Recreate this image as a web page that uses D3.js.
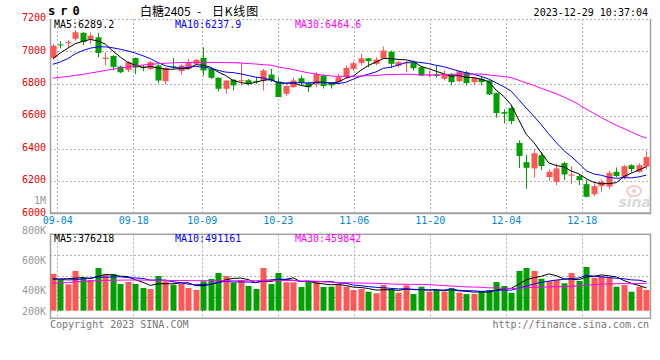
<!DOCTYPE html>
<html><head><meta charset="utf-8">
<script src="https://cdn.jsdelivr.net/npm/d3@7"></script>
<style>
body{margin:0;background:#fff}
svg{display:block}
text{font-family:"DejaVu Sans Mono","Liberation Mono",monospace}
</style>
</head><body>
<svg id="c" width="660" height="360"></svg>
<script>
const dates=["09-01","09-04","09-05","09-06","09-07","09-08","09-11","09-12","09-13","09-14","09-15","09-18","09-19","09-20","09-21","09-22","09-25","09-26","09-27","09-28",
"10-09","10-10","10-11","10-12","10-13","10-16","10-17","10-18","10-19","10-20","10-23","10-24","10-25","10-26","10-27","10-30","10-31",
"11-01","11-02","11-03","11-06","11-07","11-08","11-09","11-10","11-13","11-14","11-15","11-16","11-17","11-20","11-21","11-22","11-23","11-24","11-27","11-28","11-29","11-30",
"12-01","12-04","12-05","12-06","12-07","12-08","12-11","12-12","12-13","12-14","12-15","12-18","12-19","12-20","12-21","12-22","12-25","12-26","12-27","12-28","12-29"];
const open=[6960,7043,7050,7078,7115,7077,7087,6954,6972,6906,6886,6959,6904,6892,6913,6816,6908,6878,6892,6923,
6960,6892,6837,6769,6825,6817,6822,6818,6820,6857,6814,6738,6779,6834,6806,6796,6851,
6806,6810,6841,6892,6929,6957,6923,6957,6998,6913,6927,6933,6902,6855,6857,6831,6861,6816,6871,6810,6831,6820,
6742,6625,6650,6434,6316,6277,6359,6224,6194,6310,6233,6230,6180,6118,6168,6165,6256,6220,6297,6256,6289];
const high=[7045,7062,7070,7132,7118,7117,7113,6994,6975,6912,6940,6962,6915,6940,6920,6902,6960,6920,6954,6954,
7025,6898,6841,6824,6828,6933,6830,6841,6892,6892,6838,6790,6837,6851,6810,6871,6857,
6810,6861,6913,6937,6985,6960,6964,7029,7005,6943,6943,6943,6906,6880,6913,6882,6866,6882,6878,6840,6843,6822,
6745,6642,6660,6451,6360,6398,6377,6272,6308,6318,6291,6242,6205,6185,6209,6262,6283,6297,6303,6309,6385];
const low=[6950,7018,7020,7066,7040,7046,6965,6915,6882,6865,6872,6860,6878,6885,6804,6796,6892,6855,6885,6918,
6851,6830,6754,6738,6760,6790,6790,6800,6759,6810,6718,6726,6775,6790,6748,6779,6770,
6770,6800,6833,6880,6913,6902,6913,6955,6898,6902,6871,6882,6848,6840,6838,6820,6790,6810,6790,6790,6790,6730,
6591,6554,6550,6280,6152,6220,6266,6200,6174,6205,6180,6174,6098,6106,6133,6148,6222,6209,6250,6250,6271];
const close=[7035,7040,7057,7118,7058,7097,6990,6962,6904,6871,6933,6900,6897,6933,6820,6898,6904,6913,6929,6948,
6882,6837,6769,6820,6790,6822,6798,6815,6882,6820,6718,6786,6820,6806,6779,6861,6786,
6790,6841,6898,6927,6957,6940,6950,7005,6923,6933,6931,6896,6851,6859,6848,6861,6810,6878,6804,6837,6810,6734,
6619,6615,6570,6354,6281,6371,6292,6256,6277,6240,6240,6205,6102,6168,6194,6250,6230,6291,6273,6297,6348];
const ma5=[6955,6990,7020,7048,7062,7074,7064,7045,7002,6965,6932,6914,6901,6907,6897,6890,6890,6894,6893,6918,
6915,6902,6873,6851,6820,6808,6800,6809,6821,6827,6807,6804,6805,6790,6782,6810,6810,
6804,6811,6835,6848,6883,6913,6934,6956,6955,6950,6948,6938,6907,6894,6877,6863,6846,6851,6840,6838,6828,6813,
6761,6723,6670,6578,6488,6438,6374,6311,6295,6287,6261,6244,6213,6191,6182,6184,6189,6227,6248,6268,6288];
const ma10=[6920,6935,6955,6985,7005,7020,7028,7028,7022,7013,7003,6989,6973,6955,6931,6911,6902,6897,6900,6908,
6902,6896,6883,6872,6869,6861,6851,6841,6836,6824,6807,6802,6807,6806,6805,6809,6807,
6805,6801,6809,6829,6847,6859,6873,6896,6902,6916,6931,6936,6931,6925,6914,6906,6892,6879,6867,6858,6845,6829,
6806,6782,6754,6703,6650,6600,6548,6490,6437,6388,6350,6309,6262,6243,6235,6222,6216,6220,6219,6225,6236];
const ma30=[6835,6840,6845,6852,6858,6866,6874,6882,6890,6897,6904,6910,6916,6920,6924,6927,6929,6931,6932,6932,
6932,6932,6932,6931,6930,6928,6925,6922,6918,6915,6904,6896,6888,6877,6868,6860,6853,
6848,6846,6847,6846,6848,6850,6850,6856,6857,6858,6859,6858,6854,6854,6854,6857,6857,6860,6859,6860,6860,6855,
6849,6845,6838,6822,6805,6791,6772,6755,6738,6718,6696,6672,6643,6617,6592,6567,6544,6523,6501,6481,6464];
// volume in thousands (K)
const volume=[567,507,464,597,527,507,627,557,567,467,487,467,427,417,547,494,460,467,427,407,
494,517,577,547,480,507,447,417,627,467,577,484,484,437,497,484,437,
440,457,440,407,417,390,374,457,414,380,454,367,440,390,407,390,427,380,367,367,397,407,
487,447,380,597,627,597,520,497,507,474,577,497,637,530,547,534,440,457,390,440,407];
const vma5=[515,518,520,525,532,520,544,563,557,545,541,509,483,453,469,470,469,477,479,451,
451,462,484,508,523,526,512,480,496,493,507,514,528,490,496,477,468,
459,463,452,436,432,422,406,409,410,403,416,414,411,406,412,399,411,399,394,386,388,384,
405,421,424,464,508,530,544,568,550,519,515,510,538,543,558,549,538,502,474,452,427];
const vma10=[524,512,508,510,518,528,534,536,537,539,531,527,523,505,507,506,489,480,466,460,
461,466,481,494,487,488,487,482,502,508,516,513,504,493,494,492,491,
493,476,474,457,450,441,434,430,423,418,419,410,410,408,407,407,413,405,400,399,393,397,
402,408,405,426,446,467,483,496,507,513,522,527,553,546,538,532,524,520,508,505,488];
const vma30=[475,478,482,488,493,497,500,502,504,506,507,507,506,505,504,503,502,502,501,500,
500,500,500,500,499,499,499,500,501,502,503,502,502,497,496,495,489,
485,481,481,478,476,475,474,471,468,465,465,463,464,460,457,451,447,443,439,436,435,428,
429,424,421,425,431,434,435,437,440,440,445,448,455,460,466,468,469,472,469,472,471];

const priceTicks=[6000,6200,6400,6600,6800,7000,7200];
const dateTicks=["09-04","09-18","10-09","10-23","11-06","11-20","12-04","12-18"];
const volTickLabels=["1M","800K","600K","400K","200K"];
const priceLegend=["MA5:6289.2","MA10:6237.9","MA30:6464.6"];
const volLegend=["MA5:376218","MA10:491161","MA30:459842"];
const symbol="sr0", stamp="2023-12-29 10:37:04";
const titleParts=["白糖2405","-","日K线图"];
const copyright="Copyright 2023 SINA.COM", site="http://finance.sina.com.cn";

const svg=d3.select("#c");
const L=50,R=650,pT=19,pB=213.3,vT=234.3,vB=318.3;
const RED="#ff5656",GREEN="#00a000",GRID="#b4b4b4",BORDER="#a0a0a0";
const lineColors=["#000000","#0000ff","#ff00ff"];

const x=d3.scaleBand().domain(dates).range([49,650.2]);
const cx=d=>x(d)+x.bandwidth()/2;
const tickX=d3.scaleLinear().domain([0,79]).range([49.7,650.1]);
const y=d3.scaleLinear().domain([6000,7200]).range([pB,pT]);
const vy=d3.scaleLinear().domain([200,800]).range([310.7,250.7]);

svg.append("rect").attr("width",660).attr("height",360).attr("fill","#fff");

// header
svg.append("text").attr("x",48).attr("y",15).attr("font-size",12).attr("font-weight","bold")
 .attr("letter-spacing",5).text(symbol);
const tt=svg.append("text").attr("y",16).attr("font-size",12)
 .style("font-family","'Noto Sans CJK SC',sans-serif");
const titleX=[140,197,212];
titleParts.forEach((t,j)=>tt.append("tspan").attr("x",titleX[j]).attr("letter-spacing",j===2?0.8:0).text(t));
svg.append("text").attr("x",648).attr("y",16).attr("font-size",10).attr("text-anchor","end").text(stamp);

// price grid
const tickIdx=dateTicks.map(t=>dates.indexOf(t));
const gP=svg.append("g");
gP.selectAll("line.h").data(priceTicks.filter(v=>v>6000)).join("line")
 .attr("x1",L).attr("x2",R).attr("y1",d=>Math.round(y(d))+0.5).attr("y2",d=>Math.round(y(d))+0.5)
 .attr("stroke",GRID).attr("stroke-dasharray","2,2");
gP.selectAll("line.v").data(tickIdx).join("line")
 .attr("x1",d=>Math.round(tickX(d))+0.5).attr("x2",d=>Math.round(tickX(d))+0.5).attr("y1",pT).attr("y2",pB)
 .attr("stroke",GRID).attr("stroke-dasharray","2,2");
// borders
svg.append("line").attr("x1",L+0.5).attr("x2",L+0.5).attr("y1",pT).attr("y2",pB+1).attr("stroke",BORDER).attr("stroke-width",1.5);
svg.append("line").attr("x1",R+0.5).attr("x2",R+0.5).attr("y1",pT).attr("y2",pB+1).attr("stroke",BORDER).attr("stroke-width",1.5);
svg.append("line").attr("x1",L).attr("x2",R+1).attr("y1",pB).attr("y2",pB).attr("stroke",BORDER).attr("stroke-width",2);

// price axis labels
const ay=svg.append("g").attr("transform",`translate(${L},0)`)
 .call(d3.axisLeft(y).tickValues(priceTicks).tickSize(0).tickPadding(4).tickFormat(d3.format("d")));
ay.select(".domain").remove();
ay.selectAll("text").attr("fill","#ee0000").attr("font-size",10).attr("dy","0.18em")
 .style("font-family","'DejaVu Sans Mono',monospace");

// date axis labels
const ax=svg.append("g").attr("transform",`translate(0,${pB})`)
 .call(d3.axisBottom(tickX).tickValues(tickIdx).tickSize(0).tickPadding(4).tickFormat(i=>dates[i]));
ax.select(".domain").remove();
ax.selectAll("text").attr("fill","#0088dd").attr("font-size",10).style("font-family","'DejaVu Sans Mono',monospace");

// watermark
const wm=svg.append("g").attr("opacity",0.9);
wm.append("ellipse").attr("cx",634).attr("cy",191).attr("rx",7).attr("ry",5).attr("fill","none").attr("stroke","#f3c4c4").attr("stroke-width",2);
wm.append("circle").attr("cx",634).attr("cy",191).attr("r",2).attr("fill","#f3c4c4");
wm.append("text").attr("x",651).attr("y",207).attr("text-anchor","end").attr("font-size",14)
 .attr("font-weight","bold").attr("font-style","italic").attr("fill","#d6d6d6")
 .style("font-family","'DejaVu Sans',sans-serif").text("sina");

// candles
const gC=svg.append("g");
dates.forEach((d,i)=>{
  const up=close[i]>=open[i], col=up?RED:GREEN;
  const c=Math.round(cx(d));
  gC.append("line").attr("x1",c+0.5).attr("x2",c+0.5).attr("y1",y(high[i])).attr("y2",y(low[i]))
    .attr("stroke",col).attr("stroke-width",1);
  const top=y(Math.max(open[i],close[i])), bot=y(Math.min(open[i],close[i]));
  gC.append("rect").attr("x",c-2.5).attr("width",6).attr("y",top).attr("height",Math.max(1,bot-top)).attr("fill",col);
});

// MA lines price
const line=d3.line().x((v,i)=>cx(dates[i])).y(v=>y(v));
[ma5,ma10,ma30].forEach((s,j)=>{
  svg.append("path").attr("d",line(s)).attr("fill","none").attr("stroke",lineColors[j]).attr("stroke-width",1);
});

// price legend
const legX=[54,175,295];
priceLegend.forEach((t,j)=>svg.append("text").attr("x",legX[j]).attr("y",27.5).attr("font-size",10).attr("fill",lineColors[j]).text(t));

// volume panel grid
const gV=svg.append("g");
const vGrid=d3.range(1,4).map(k=>vT+(vB-vT)*k/4);
gV.selectAll("line.h").data(vGrid).join("line")
 .attr("x1",L).attr("x2",R).attr("y1",d=>Math.round(d)+0.5).attr("y2",d=>Math.round(d)+0.5)
 .attr("stroke",GRID).attr("stroke-dasharray","2,2");
gV.selectAll("line.v").data(tickIdx).join("line")
 .attr("x1",d=>Math.round(tickX(d))+0.5).attr("x2",d=>Math.round(tickX(d))+0.5).attr("y1",vT).attr("y2",vB)
 .attr("stroke",GRID).attr("stroke-dasharray","2,2");
svg.append("rect").attr("x",L+0.5).attr("y",vT).attr("width",R-L).attr("height",vB-vT)
 .attr("fill","none").attr("stroke",BORDER).attr("stroke-width",1.5);

// volume labels
const vls=d3.scalePoint().domain(volTickLabels).range([200,320]);
svg.selectAll("text.vl").data(volTickLabels).join("text").attr("class","vl")
 .attr("x",46).attr("y",d=>Math.min(vls(d),311)).attr("dy","0.35em").attr("text-anchor","end")
 .attr("font-size",10).attr("fill","#999").text(d=>d);

// volume bars
svg.append("g").selectAll("rect").data(dates).join("rect")
 .attr("x",d=>Math.round(cx(d))-2.5).attr("width",6)
 .attr("y",(d,i)=>vy(volume[i])).attr("height",(d,i)=>vy(200)-vy(volume[i]))
 .attr("fill",(d,i)=>close[i]>=open[i]?RED:GREEN);

const vline=d3.line().x((v,i)=>cx(dates[i])).y(v=>vy(v));
[vma5,vma10,vma30].forEach((s,j)=>{
  svg.append("path").attr("d",vline(s)).attr("fill","none").attr("stroke",lineColors[j]).attr("stroke-width",1);
});
volLegend.forEach((t,j)=>svg.append("text").attr("x",legX[j]).attr("y",241.8).attr("font-size",10).attr("fill",lineColors[j]).text(t));

// footer
svg.append("text").attr("x",50).attr("y",327.5).attr("font-size",10).attr("fill","#777").text(copyright);
svg.append("text").attr("x",649).attr("y",327.5).attr("font-size",10).attr("fill","#777").attr("text-anchor","end").text(site);
</script>
</body></html>
